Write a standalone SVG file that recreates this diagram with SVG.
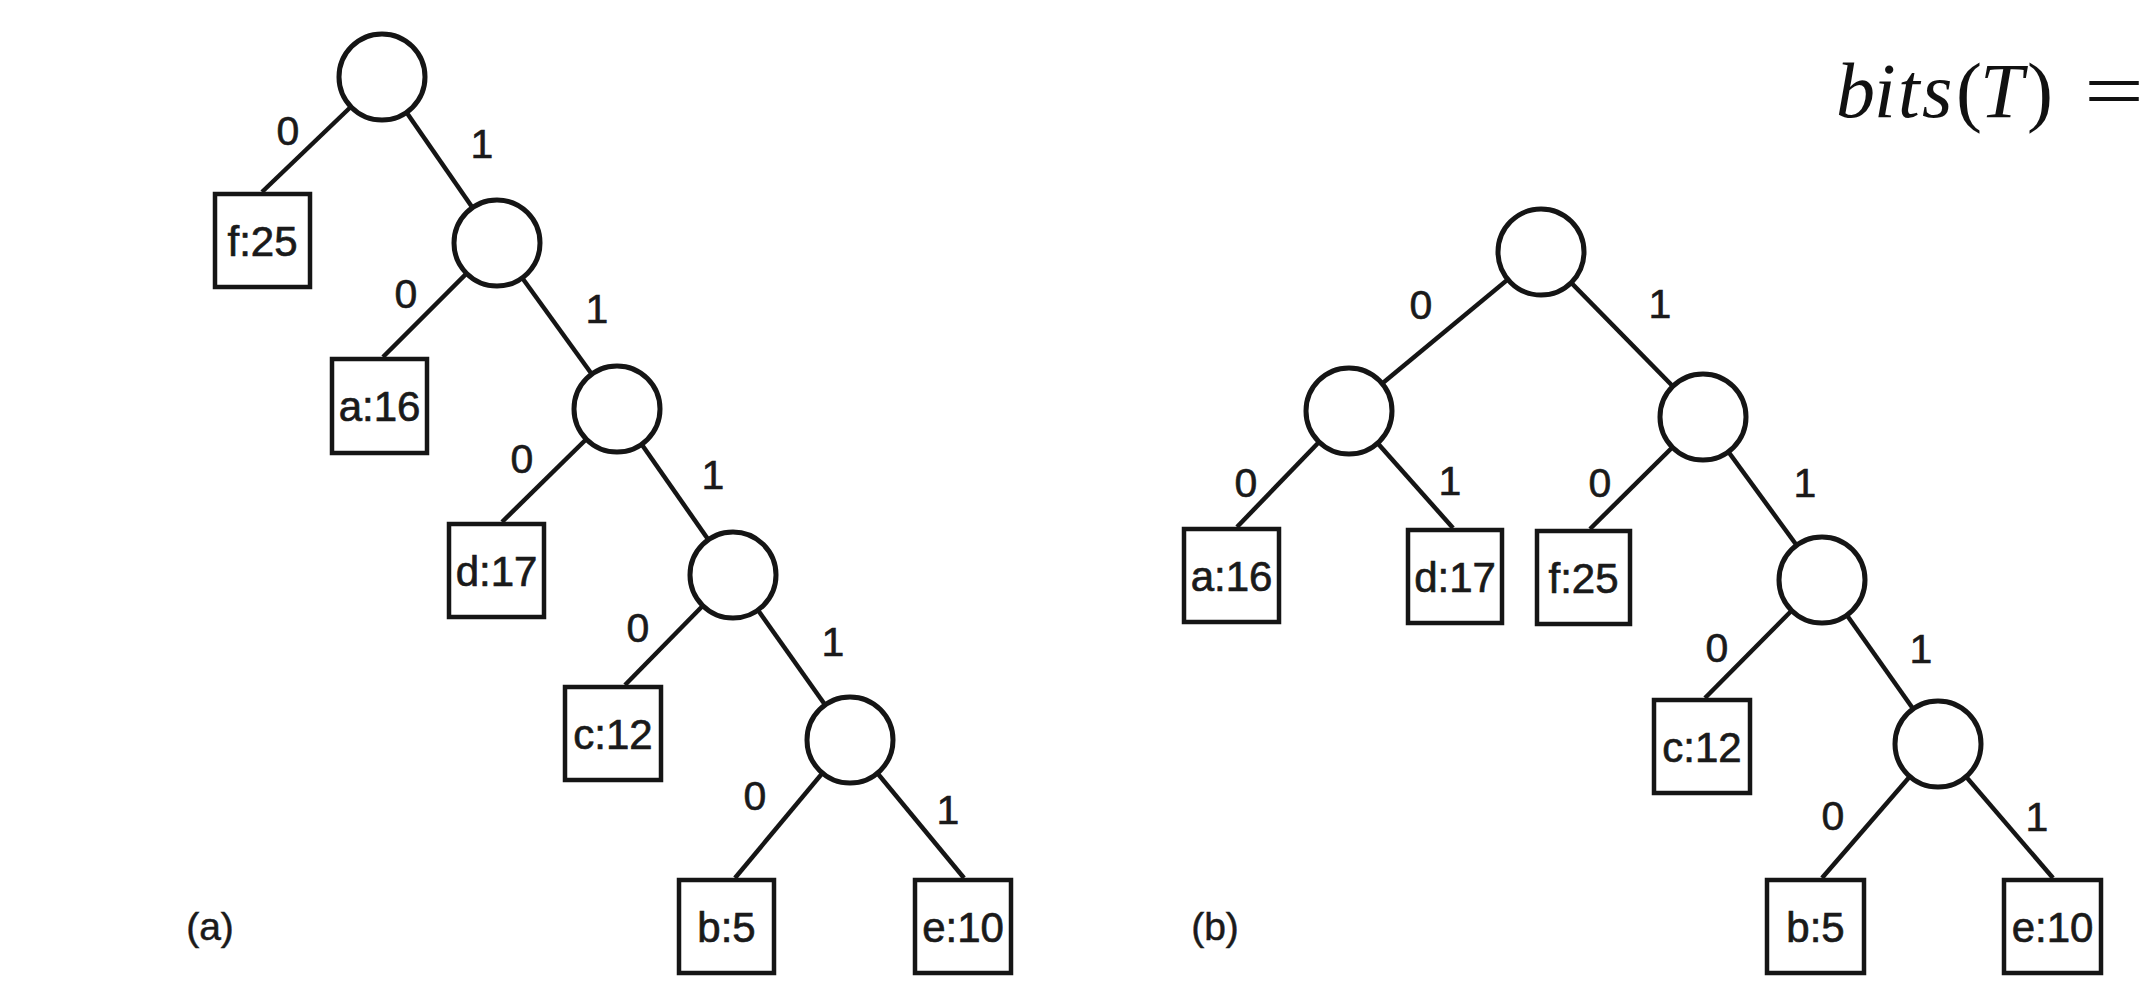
<svg xmlns="http://www.w3.org/2000/svg" width="2156" height="1000" viewBox="0 0 2156 1000">
<style>
.edge{stroke:#151515;stroke-width:4.5;fill:none}
.inner{fill:#fff;stroke:#151515;stroke-width:5}
.leaf{fill:#fff;stroke:#151515;stroke-width:4.5}
.lt{font-family:"Liberation Sans",Arial,sans-serif;font-size:42px;fill:#1a1a1a;stroke:#1a1a1a;stroke-width:0.7;text-anchor:middle}
.bit{font-family:"Liberation Sans",Arial,sans-serif;font-size:41px;fill:#1a1a1a;stroke:#1a1a1a;stroke-width:0.6;text-anchor:middle}
.cap{font-family:"Liberation Sans",Arial,sans-serif;font-size:39px;fill:#1a1a1a;stroke:#1a1a1a;stroke-width:0.5;text-anchor:middle}
.math{font-family:"Liberation Serif","Times New Roman",serif;font-size:78px;fill:#111}
</style>
<rect width="2156" height="1000" fill="#fff"/>
<g id="connectors">
<line class="edge" x1="382" y1="77" x2="262" y2="192"/>
<line class="edge" x1="382" y1="77" x2="497" y2="243"/>
<line class="edge" x1="497" y1="243" x2="383" y2="357"/>
<line class="edge" x1="497" y1="243" x2="617" y2="409"/>
<line class="edge" x1="617" y1="409" x2="502" y2="522"/>
<line class="edge" x1="617" y1="409" x2="733" y2="575"/>
<line class="edge" x1="733" y1="575" x2="625" y2="685"/>
<line class="edge" x1="733" y1="575" x2="850" y2="740"/>
<line class="edge" x1="850" y1="740" x2="735" y2="878"/>
<line class="edge" x1="850" y1="740" x2="964" y2="878"/>
<line class="edge" x1="1541" y1="252" x2="1349" y2="411"/>
<line class="edge" x1="1541" y1="252" x2="1703" y2="417"/>
<line class="edge" x1="1349" y1="411" x2="1237" y2="527"/>
<line class="edge" x1="1349" y1="411" x2="1453" y2="528"/>
<line class="edge" x1="1703" y1="417" x2="1590" y2="529"/>
<line class="edge" x1="1703" y1="417" x2="1822" y2="580"/>
<line class="edge" x1="1822" y1="580" x2="1705" y2="698"/>
<line class="edge" x1="1822" y1="580" x2="1938" y2="744"/>
<line class="edge" x1="1938" y1="744" x2="1822" y2="878"/>
<line class="edge" x1="1938" y1="744" x2="2053" y2="878"/>
</g>
<g id="edge-labels">
<text class="bit" x="288" y="145">0</text>
<text class="bit" x="482" y="158">1</text>
<text class="bit" x="406" y="308">0</text>
<text class="bit" x="597" y="323">1</text>
<text class="bit" x="522" y="473">0</text>
<text class="bit" x="713" y="489">1</text>
<text class="bit" x="638" y="642">0</text>
<text class="bit" x="833" y="656">1</text>
<text class="bit" x="755" y="810">0</text>
<text class="bit" x="948" y="824">1</text>
<text class="bit" x="1421" y="319">0</text>
<text class="bit" x="1660" y="318">1</text>
<text class="bit" x="1246" y="497">0</text>
<text class="bit" x="1450" y="495">1</text>
<text class="bit" x="1600" y="497">0</text>
<text class="bit" x="1805" y="497">1</text>
<text class="bit" x="1717" y="662">0</text>
<text class="bit" x="1921" y="663">1</text>
<text class="bit" x="1833" y="830">0</text>
<text class="bit" x="2037" y="831">1</text>
</g>
<g id="a-root"><circle class="inner" cx="382" cy="77" r="43"/></g>
<g id="a-n1"><circle class="inner" cx="497" cy="243" r="43"/></g>
<g id="a-n2"><circle class="inner" cx="617" cy="409" r="43"/></g>
<g id="a-n3"><circle class="inner" cx="733" cy="575" r="43"/></g>
<g id="a-n4"><circle class="inner" cx="850" cy="740" r="43"/></g>
<g id="a-f"><rect class="leaf" x="215" y="194" width="95" height="93"/><text class="lt" x="262.5" y="256">f:25</text></g>
<g id="a-a"><rect class="leaf" x="332" y="359" width="95" height="94"/><text class="lt" x="379.5" y="421">a:16</text></g>
<g id="a-d"><rect class="leaf" x="449" y="524" width="95" height="93"/><text class="lt" x="496.5" y="586">d:17</text></g>
<g id="a-c"><rect class="leaf" x="565" y="687" width="96" height="93"/><text class="lt" x="613" y="749">c:12</text></g>
<g id="a-b"><rect class="leaf" x="679" y="880" width="95" height="93"/><text class="lt" x="726.5" y="942">b:5</text></g>
<g id="a-e"><rect class="leaf" x="915" y="880" width="96" height="93"/><text class="lt" x="963" y="942">e:10</text></g>
<g id="b-root"><circle class="inner" cx="1541" cy="252" r="43"/></g>
<g id="b-n0"><circle class="inner" cx="1349" cy="411" r="43"/></g>
<g id="b-n1"><circle class="inner" cx="1703" cy="417" r="43"/></g>
<g id="b-n11"><circle class="inner" cx="1822" cy="580" r="43"/></g>
<g id="b-n111"><circle class="inner" cx="1938" cy="744" r="43"/></g>
<g id="b-a"><rect class="leaf" x="1184" y="529" width="95" height="93"/><text class="lt" x="1231.5" y="591">a:16</text></g>
<g id="b-d"><rect class="leaf" x="1408" y="530" width="94" height="93"/><text class="lt" x="1455" y="592">d:17</text></g>
<g id="b-f"><rect class="leaf" x="1537" y="531" width="93" height="93"/><text class="lt" x="1583.5" y="593">f:25</text></g>
<g id="b-c"><rect class="leaf" x="1654" y="700" width="96" height="93"/><text class="lt" x="1702" y="762">c:12</text></g>
<g id="b-b"><rect class="leaf" x="1767" y="880" width="97" height="93"/><text class="lt" x="1815.5" y="942">b:5</text></g>
<g id="b-e"><rect class="leaf" x="2004" y="880" width="97" height="93"/><text class="lt" x="2052.5" y="942">e:10</text></g>
<g id="captions">
<text class="cap" x="210" y="940">(a)</text>
<text class="cap" x="1215" y="940">(b)</text>
</g>
<g id="formula">
<text class="math" y="117"><tspan x="1836 1874 1898 1922" font-style="italic">bits</tspan><tspan x="1956">(</tspan><tspan x="1980" font-style="italic">T</tspan><tspan x="2027">)</tspan></text>
<text class="math" x="2084" y="117" textLength="60" lengthAdjust="spacingAndGlyphs">=</text>
</g>
</svg>
